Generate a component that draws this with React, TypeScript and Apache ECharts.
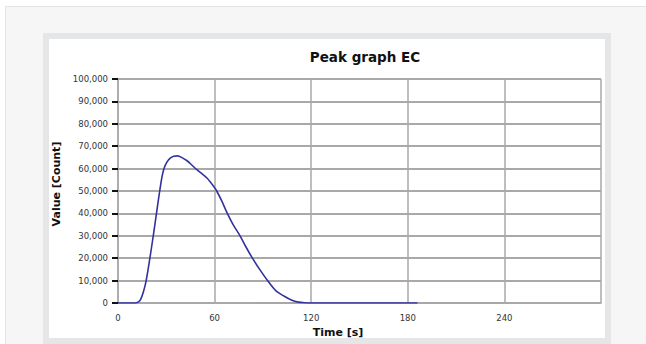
import React, { useEffect, useRef } from "react";
import * as echarts from "echarts";

const chartTitle = "Peak graph EC";
const xName = "Time [s]";
const yName = "Value [Count]";

const times = [0, 8, 10.5, 12.5, 14, 15.8, 17.5, 19.8, 21.9, 23.9, 25.9, 27.5, 28.8, 30.3, 32.3, 34.6, 37, 40, 42.9, 46, 49, 51.3, 55.4, 60, 61.3, 64.5, 67.9, 71.5, 75.8, 79.5, 83.5, 88, 92.9, 98, 103.3, 108, 112, 116, 120, 150, 186];
const counts = [0, 0, 0, 400, 1500, 5000, 10000, 20000, 30000, 40000, 50000, 57000, 60500, 62800, 64600, 65500, 65700, 64800, 63500, 61500, 59500, 58200, 55700, 51500, 50000, 45500, 40000, 35000, 30000, 25000, 20000, 15000, 10000, 5500, 3000, 1200, 400, 100, 0, 0, 0];

const xTickLabels = ["0", "60", "120", "180", "240"];

export default function App() {
  const ref = useRef<HTMLDivElement>(null);
  useEffect(() => {
    if (!ref.current) return;
    const chart = echarts.init(ref.current, null, { renderer: "svg" });
    const font = "DejaVu Sans";
    const gridColor = "#a9a9a9";
    chart.setOption({
      animation: false,
      backgroundColor: "#ffffff",
      graphic: [
        { type: "rect", z: -10, shape: { x: 5.5, y: 6.5, width: 660, height: 360 }, style: { fill: "#f6f6f6", stroke: "#e4e4e4", lineWidth: 1 } },
        { type: "rect", z: -9, shape: { x: 43, y: 33, width: 568, height: 311 }, style: { fill: "#e5e6e8" } },
        { type: "rect", z: -8, shape: { x: 49, y: 39, width: 556, height: 299 }, style: { fill: "#ffffff" } },
      ],
      title: {
        text: chartTitle,
        left: 360,
        top: 45,
        textAlign: "center",
        textStyle: { fontFamily: font, fontSize: 13.5, fontWeight: "bold", color: "#111" },
      },
      grid: { left: 118, right: 45, top: 79, bottom: 41, containLabel: false },
      xAxis: {
        type: "value",
        min: 0,
        max: 300,
        interval: 60,
        name: xName,
        nameLocation: "middle",
        nameGap: 23,
        nameTextStyle: { fontFamily: font, fontSize: 11, fontWeight: "bold", color: "#111", padding: [0, 43, 0, 0] },
        axisLine: { show: true, lineStyle: { color: gridColor, width: 1.5 } },
        axisTick: { show: false },
        axisLabel: {
          margin: 10,
          fontFamily: font,
          fontSize: 8.5,
          color: "#333",
          formatter: (v: number) => (xTickLabels.includes(String(v)) ? String(v) : ""),
        },
        splitLine: { show: true, lineStyle: { color: gridColor, width: 1.5 } },
      },
      yAxis: {
        type: "value",
        min: 0,
        max: 100000,
        interval: 10000,
        name: yName,
        nameLocation: "middle",
        nameGap: 54,
        nameTextStyle: { fontFamily: font, fontSize: 11, fontWeight: "bold", color: "#111", padding: [0, 0, 0, 14] },
        axisLine: { show: true, lineStyle: { color: gridColor, width: 1.5 } },
        axisTick: { show: true, length: 6, lineStyle: { color: "#111", width: 2 } },
        axisLabel: { margin: 10, fontFamily: font, fontSize: 8.5, color: "#333" },
        splitLine: { show: true, lineStyle: { color: gridColor, width: 1.8 } },
      },
      series: [
        {
          type: "line",
          data: times.map((t, i) => [t, counts[i]]),
          smooth: 0.3,
          showSymbol: false,
          lineStyle: { color: "#32329e", width: 1.6 },
        },
      ],
    });
    return () => chart.dispose();
  }, []);
  return <div ref={ref} style={{ position: "fixed", left: 0, top: 0, width: 646, height: 344 }} />;
}
